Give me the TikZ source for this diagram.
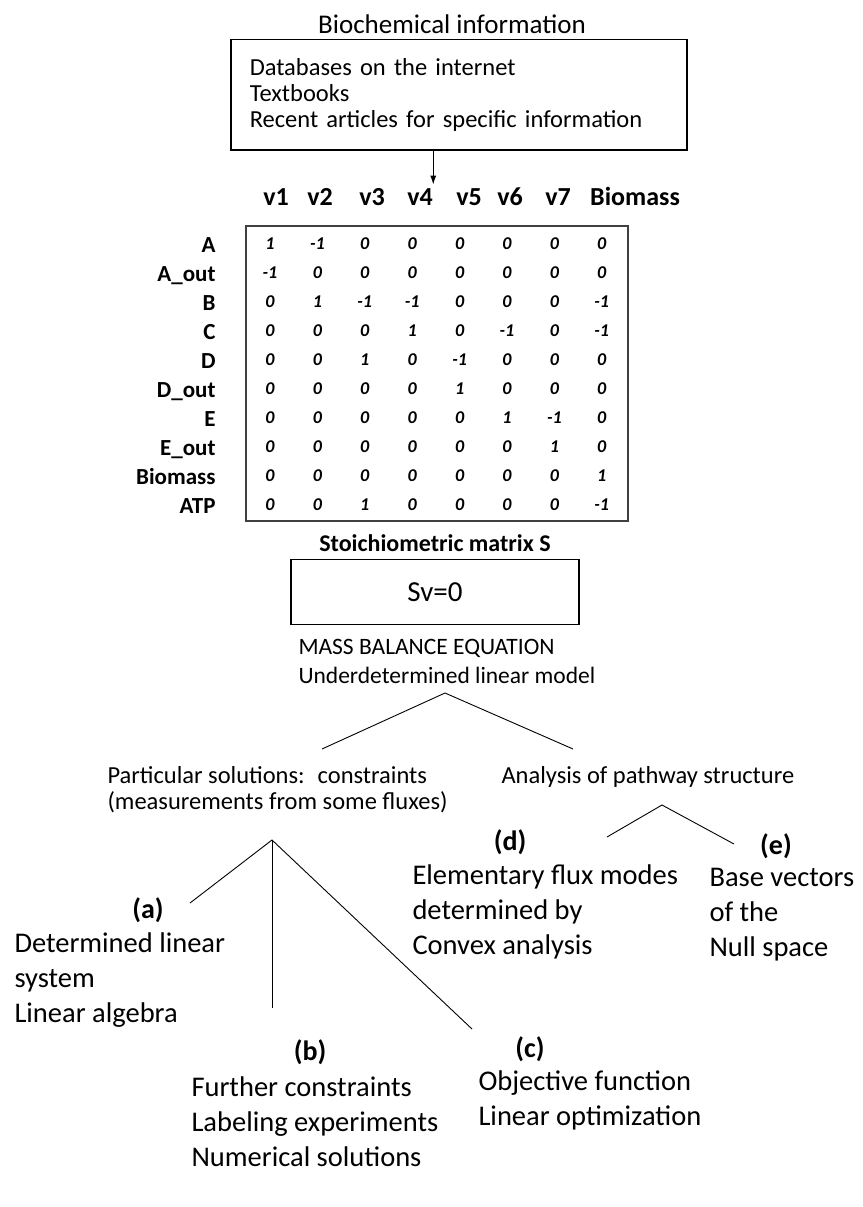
\documentclass[tikz,border=0pt]{standalone}
\usepackage{fontspec}
\setmainfont{Carlito}
\usetikzlibrary{positioning, arrows.meta}
\tikzset{every picture/.style={line width=1pt}}

\begin{document}
\begin{tikzpicture}[x=1pt, y=-1pt,
    txt/.style={inner sep=0pt, align=left, font=\fontsize{24.5}{26}\selectfont},
    big/.style={inner sep=0pt, align=left, font=\fontsize{28.5}{35}\selectfont},
    tag/.style={inner sep=0pt, font=\fontsize{28}{30}\selectfont\bfseries},
    colhead/.style={inner sep=0pt, anchor=base, font=\fontsize{26}{28}\selectfont\bfseries},
    rowhead/.style={inner sep=0pt, anchor=base east, font=\fontsize{23}{25}\selectfont\bfseries},
    cell/.style={inner sep=0pt, anchor=base, font=\fontsize{18}{20}\selectfont\bfseries\itshape},
    link/.style={line width=0.9pt}]
  \useasboundingbox (0,0) rectangle (862,1207);

  \node[inner sep=0pt, font=\fontsize{27}{30}\selectfont] (title) at (452,24) {Biochemical information};
  \node[draw, line width=1.5pt, anchor=north west, minimum width=456pt, minimum height=110pt,
        text width=418pt, inner xsep=19pt, align=left, font=\fontsize{24.5}{26}\selectfont] (info) at (230,39)
       {Databases on the internet\\Textbooks\\Recent articles for specific information};

  % column heads
  \foreach \t/\x [count=\i] in {v1/276, v2/320, v3/372, v4/420, v5/469, v6/510, v7/558, Biomass/635}
    \node[colhead] (h\i) at (\x,205) {\t};
  \draw[-{Latex[length=9pt,width=6pt]}] (info.south -| h4.north east) -- ([yshift=3pt]h4.north east);

  % stoichiometric matrix
  \node[draw, line width=2pt, draw=black!75, anchor=north west, minimum width=382pt, minimum height=295pt] (stoich) at (245,225) {};
  \foreach \name/\vals [count=\r] in {
      A/{1,-1,0,0,0,0,0,0},
      A\_out/{-1,0,0,0,0,0,0,0},
      B/{0,1,-1,-1,0,0,0,-1},
      C/{0,0,0,1,0,-1,0,-1},
      D/{0,0,1,0,-1,0,0,0},
      D\_out/{0,0,0,0,1,0,0,0},
      E/{0,0,0,0,0,1,-1,0},
      E\_out/{0,0,0,0,0,0,1,0},
      Biomass/{0,0,0,0,0,0,0,1},
      ATP/{0,0,1,0,0,0,0,-1}} {
    \node[rowhead] (m\r) at (216,223+29*\r) {\name};
    \foreach \v [count=\c] in \vals
      \node[cell] (s\r-\c) at (222.6+47.4*\c,220+29*\r) {\v};
  }
  \node[inner sep=0pt, font=\fontsize{24}{26}\selectfont\bfseries] (caption) at (435,543) {Stoichiometric matrix S};
  \node[draw, line width=1.4pt, below=6.5pt of caption.south, anchor=north, minimum width=288pt, minimum height=65pt,
        font=\fontsize{29}{30}\selectfont] (sv) {Sv=0};
  \node[txt, anchor=west, font=\fontsize{23.5}{29}\selectfont] (model) at (298,661) {MASS BALANCE EQUATION\\Underdetermined linear model};

  % first split
  \coordinate (split) at (445,693);
  \coordinate (toPart) at (322,749);
  \coordinate (toPath) at (573,749);
  \draw[link] (toPart) -- (split) -- (toPath);

  \node[txt, anchor=west] (particular) at (107,790) {Particular solutions:~ constraints\\(measurements from some fluxes)};
  \node[txt, anchor=west] (pathway) at (501,777) {Analysis of pathway structure};

  % particular solutions
  \coordinate (splitA) at (272,840);
  \coordinate (toA) at (190,903);
  \coordinate (toB) at (272,1008);
  \coordinate (toC) at (472,1029);
  \draw[link] (toA) -- (splitA) -- (toC);
  \draw[link] (splitA) -- (toB);

  \node[tag] (a) at (148,910) {(a)};
  \node[big, anchor=west] (determined) at (14,980) {Determined linear\\system\\Linear algebra};
  \node[tag] (b) at (310,1052) {(b)};
  \node[big, anchor=west] (further) at (191,1122) {Further constraints\\Labeling experiments\\Numerical solutions};
  \node[tag] (c) at (530,1049) {(c)};
  \node[big, anchor=west] (objective) at (478,1100.5) {Objective function\\Linear optimization};

  % pathway structure
  \coordinate (splitD) at (662,805);
  \coordinate (toD) at (607,837);
  \coordinate (toE) at (734,844);
  \draw[link] (toD) -- (splitD) -- (toE);

  \node[tag] (d) at (510,842) {(d)};
  \node[big, anchor=west] (elementary) at (412,912) {Elementary flux modes\\determined by\\Convex analysis};
  \node[tag] (e) at (776,846) {(e)};
  \node[big, anchor=west] (base) at (709,915) {Base vectors\\of the\\Null space};
\end{tikzpicture}
\end{document}
